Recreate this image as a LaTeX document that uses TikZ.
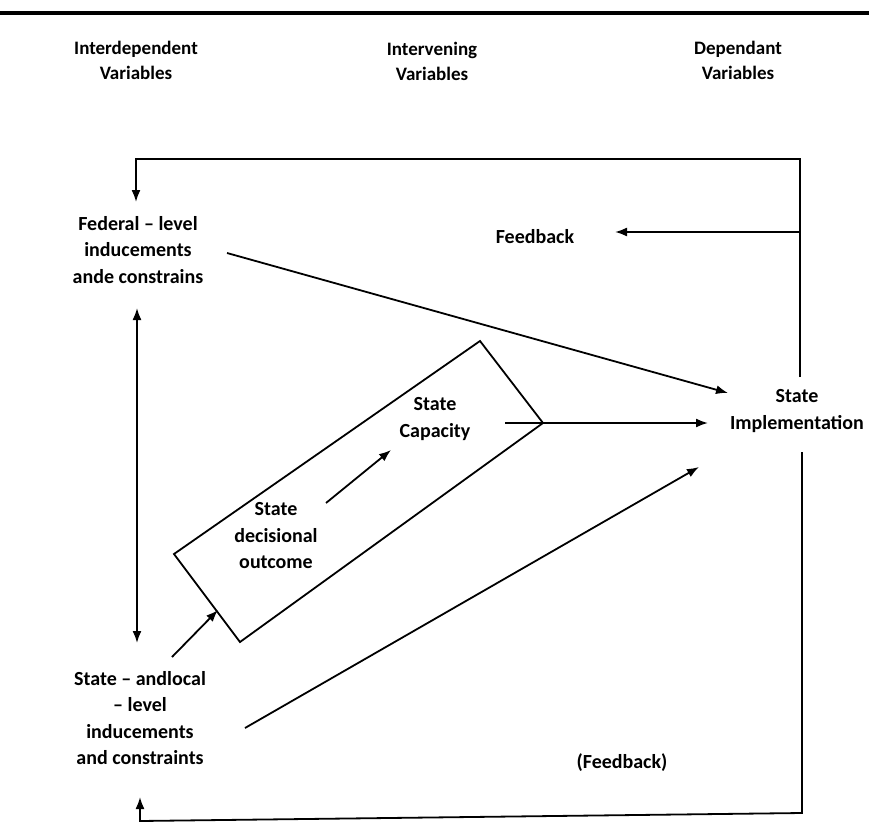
\documentclass[tikz,border=0pt]{standalone}
\usepackage{fontspec}
\setmainfont{Carlito}
\usetikzlibrary{arrows.meta}
\begin{document}
\begin{tikzpicture}[x=1pt,y=-1pt,
  lbl/.style={align=center,font=\fontsize{20}{26.5}\selectfont\bfseries,inner sep=0pt},
  hdr/.style={align=center,font=\fontsize{19}{25}\selectfont\bfseries,inner sep=0pt},
  conn/.style={line width=1.8pt},
  arr/.style={conn,-{Latex[length=12pt,width=9pt]}},
  darr/.style={conn,{Latex[length=12pt,width=9pt]}-{Latex[length=12pt,width=9pt]}}]
\useasboundingbox (0,0) rectangle (869,824);
\fill[white] (0,0) rectangle (869,824);
% top rule
\coordinate (ruleL) at (0,13);
\coordinate (ruleR) at (869,13);
\draw[line width=3.5pt] (ruleL) -- (ruleR);
% headers
\node[hdr] (h1) at (136,60) {Interdependent\\Variables};
\node[hdr] (h2) at (432,61) {Intervening\\Variables};
\node[hdr] (h3) at (738,60) {Dependant\\Variables};
% text nodes
\node[lbl] (fed) at (138,250) {Federal -- level\\inducements\\ande constrains};
\node[lbl] (stl) at (140,718) {State -- andlocal\\-- level\\inducements\\and constraints};
\node[lbl] (cap) at (435,419) {State\\Capacity};
\node[lbl] (dec) at (276,536) {State\\decisional\\outcome};
\node[lbl] (si) at (797,411) {State\\Implementation};
\node[lbl] (fb1) at (535,237) {Feedback};
\node[lbl] (fb2) at (622,763) {(Feedback)};
% box
\coordinate (bT) at (480,341);
\coordinate (bR) at (543,423);
\coordinate (bB) at (240,642);
\coordinate (bL) at (174,554);
\draw[conn] (bT) -- (bR) -- (bB) -- (bL) -- cycle;
% connector points
\coordinate (topR) at (800,159);
\coordinate (topL) at (136,159);
\coordinate (topA) at (136,202);
\coordinate (siTop) at (800,377);
\coordinate (fbS) at (800,232);
\coordinate (fbE) at (615,232);
\coordinate (fedS) at (227,253);
\coordinate (fedE) at (728,393);
\coordinate (vU) at (137,308);
\coordinate (vD) at (137,643);
\coordinate (inS) at (326,503);
\coordinate (inE) at (391,450);
\coordinate (capS) at (505,423);
\coordinate (capE) at (708,423);
\coordinate (stlS) at (172,657);
\coordinate (stlE) at (218,610);
\coordinate (stl2S) at (245,728);
\coordinate (stl2E) at (699,467);
\coordinate (siBot) at (802,452);
\coordinate (botR) at (802,813);
\coordinate (botL) at (140,821);
\coordinate (botA) at (140,797);
% connectors
\draw[arr] (siTop) -- (topR) -- (topL) -- (topA);
\draw[arr] (fbS) -- (fbE);
\draw[arr] (fedS) -- (fedE);
\draw[darr] (vU) -- (vD);
\draw[arr] (inS) -- (inE);
\draw[arr] (capS) -- (capE);
\draw[arr] (stlS) -- (stlE);
\draw[arr] (stl2S) -- (stl2E);
\draw[arr] (siBot) -- (botR) -- (botL) -- (botA);
\end{tikzpicture}
\end{document}
